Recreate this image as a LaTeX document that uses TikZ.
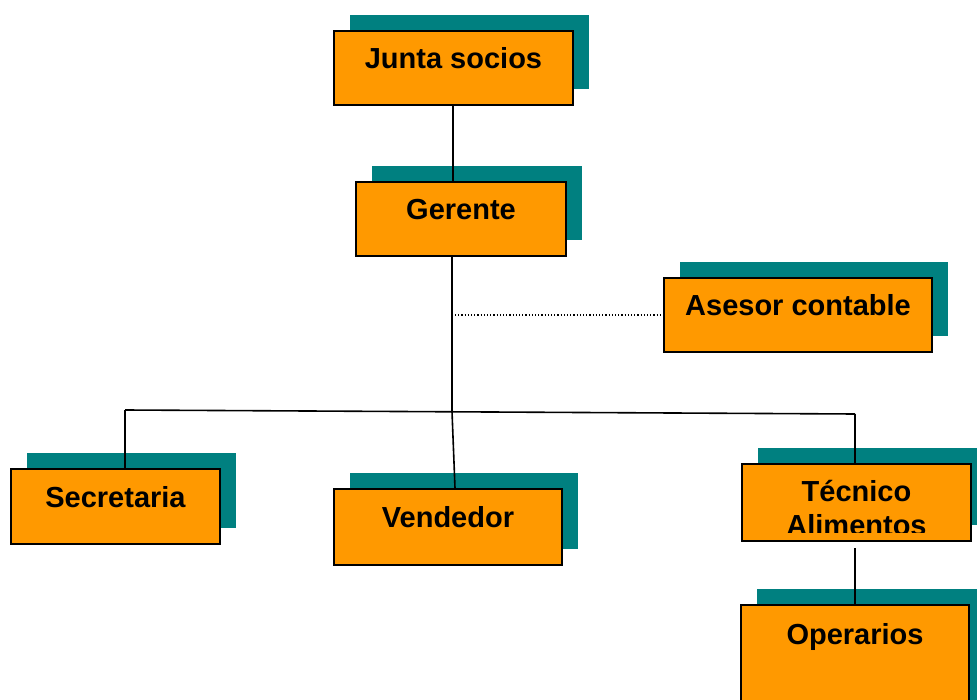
\documentclass[tikz,border=0pt]{standalone}
\usepackage{fontspec}
\setmainfont{Liberation Sans}
\usetikzlibrary{shadows}
\definecolor{boxorange}{HTML}{FF9900}
\definecolor{shadowteal}{HTML}{008080}
\begin{document}
\begin{tikzpicture}[x=1pt,y=-1pt,
  orgbox/.style={draw=black, line width=2pt, fill=boxorange, inner sep=0pt,
    general shadow={fill=shadowteal, shadow xshift=15.5pt, shadow yshift=16pt}},
  lbl/.style={anchor=base, inner sep=0pt, align=center,
    font=\fontsize{29}{34}\selectfont\bfseries},
  conn/.style={draw=black, line width=1.6pt},
  adv/.style={draw=black, line width=1.2pt, dotted}]
\useasboundingbox (0,0) rectangle (977,700);
\clip (0,0) rectangle (977,700);

% boxes
\node[orgbox, minimum width=239pt, minimum height=74pt] (junta) at (453.5,68) {};
\node[orgbox, minimum width=210pt, minimum height=74pt] (gerente) at (461,219) {};
\node[orgbox, minimum width=268pt, minimum height=74pt] (asesor) at (798,315) {};
\node[orgbox, minimum width=209pt, minimum height=75pt] (secretaria) at (115.5,506.5) {};
\node[orgbox, minimum width=228pt, minimum height=76pt] (vendedor) at (448,527) {};
\node[orgbox, minimum width=229pt, minimum height=77pt] (tecnico) at (856.5,502.5) {};
\node[orgbox, minimum width=228pt, minimum height=120pt] (operarios) at (855,665) {};

% labels
\node[lbl] (juntaT) at ([yshift=-39pt]junta.north) {Junta socios};
\node[lbl] (gerenteT) at ([yshift=-39pt]gerente.north) {Gerente};
\node[lbl] (asesorT) at ([yshift=-39pt]asesor.north) {Asesor contable};
\node[lbl] (secretariaT) at ([yshift=-39pt]secretaria.north) {Secretaria};
\node[lbl] (vendedorT) at ([yshift=-39pt]vendedor.north) {Vendedor};
\node[lbl] (operariosT) at ([yshift=-40pt]operarios.north) {Operarios};
\begin{scope}
  \clip (tecnico.north west) rectangle ([yshift=10pt]tecnico.south east);
  \node[lbl, anchor=north] (tecnicoT) at ([yshift=-17pt]tecnico.north) {Técnico\\Alimentos};
\end{scope}

% connector points
\coordinate (hub) at (452,411.5);
\coordinate (left) at (125,410);
\coordinate (right) at (855,414);
\coordinate (vtop) at (455,488);
\coordinate (otop) at (855,548);

% connectors
\draw[conn] (junta.south -| 453,0) -- (453,181);
\draw[conn] (gerente.south -| hub) -- (hub);
\draw[conn] (left) -- (right);
\draw[conn] (left) -- (secretaria.north -| left);
\draw[conn] (hub) -- (vtop);
\draw[conn] (right) -- (tecnico.north -| right);
\draw[conn] (otop) -- (operarios.north -| otop);
\draw[adv] (455,315) -- (asesor.west);
\end{tikzpicture}
\end{document}
